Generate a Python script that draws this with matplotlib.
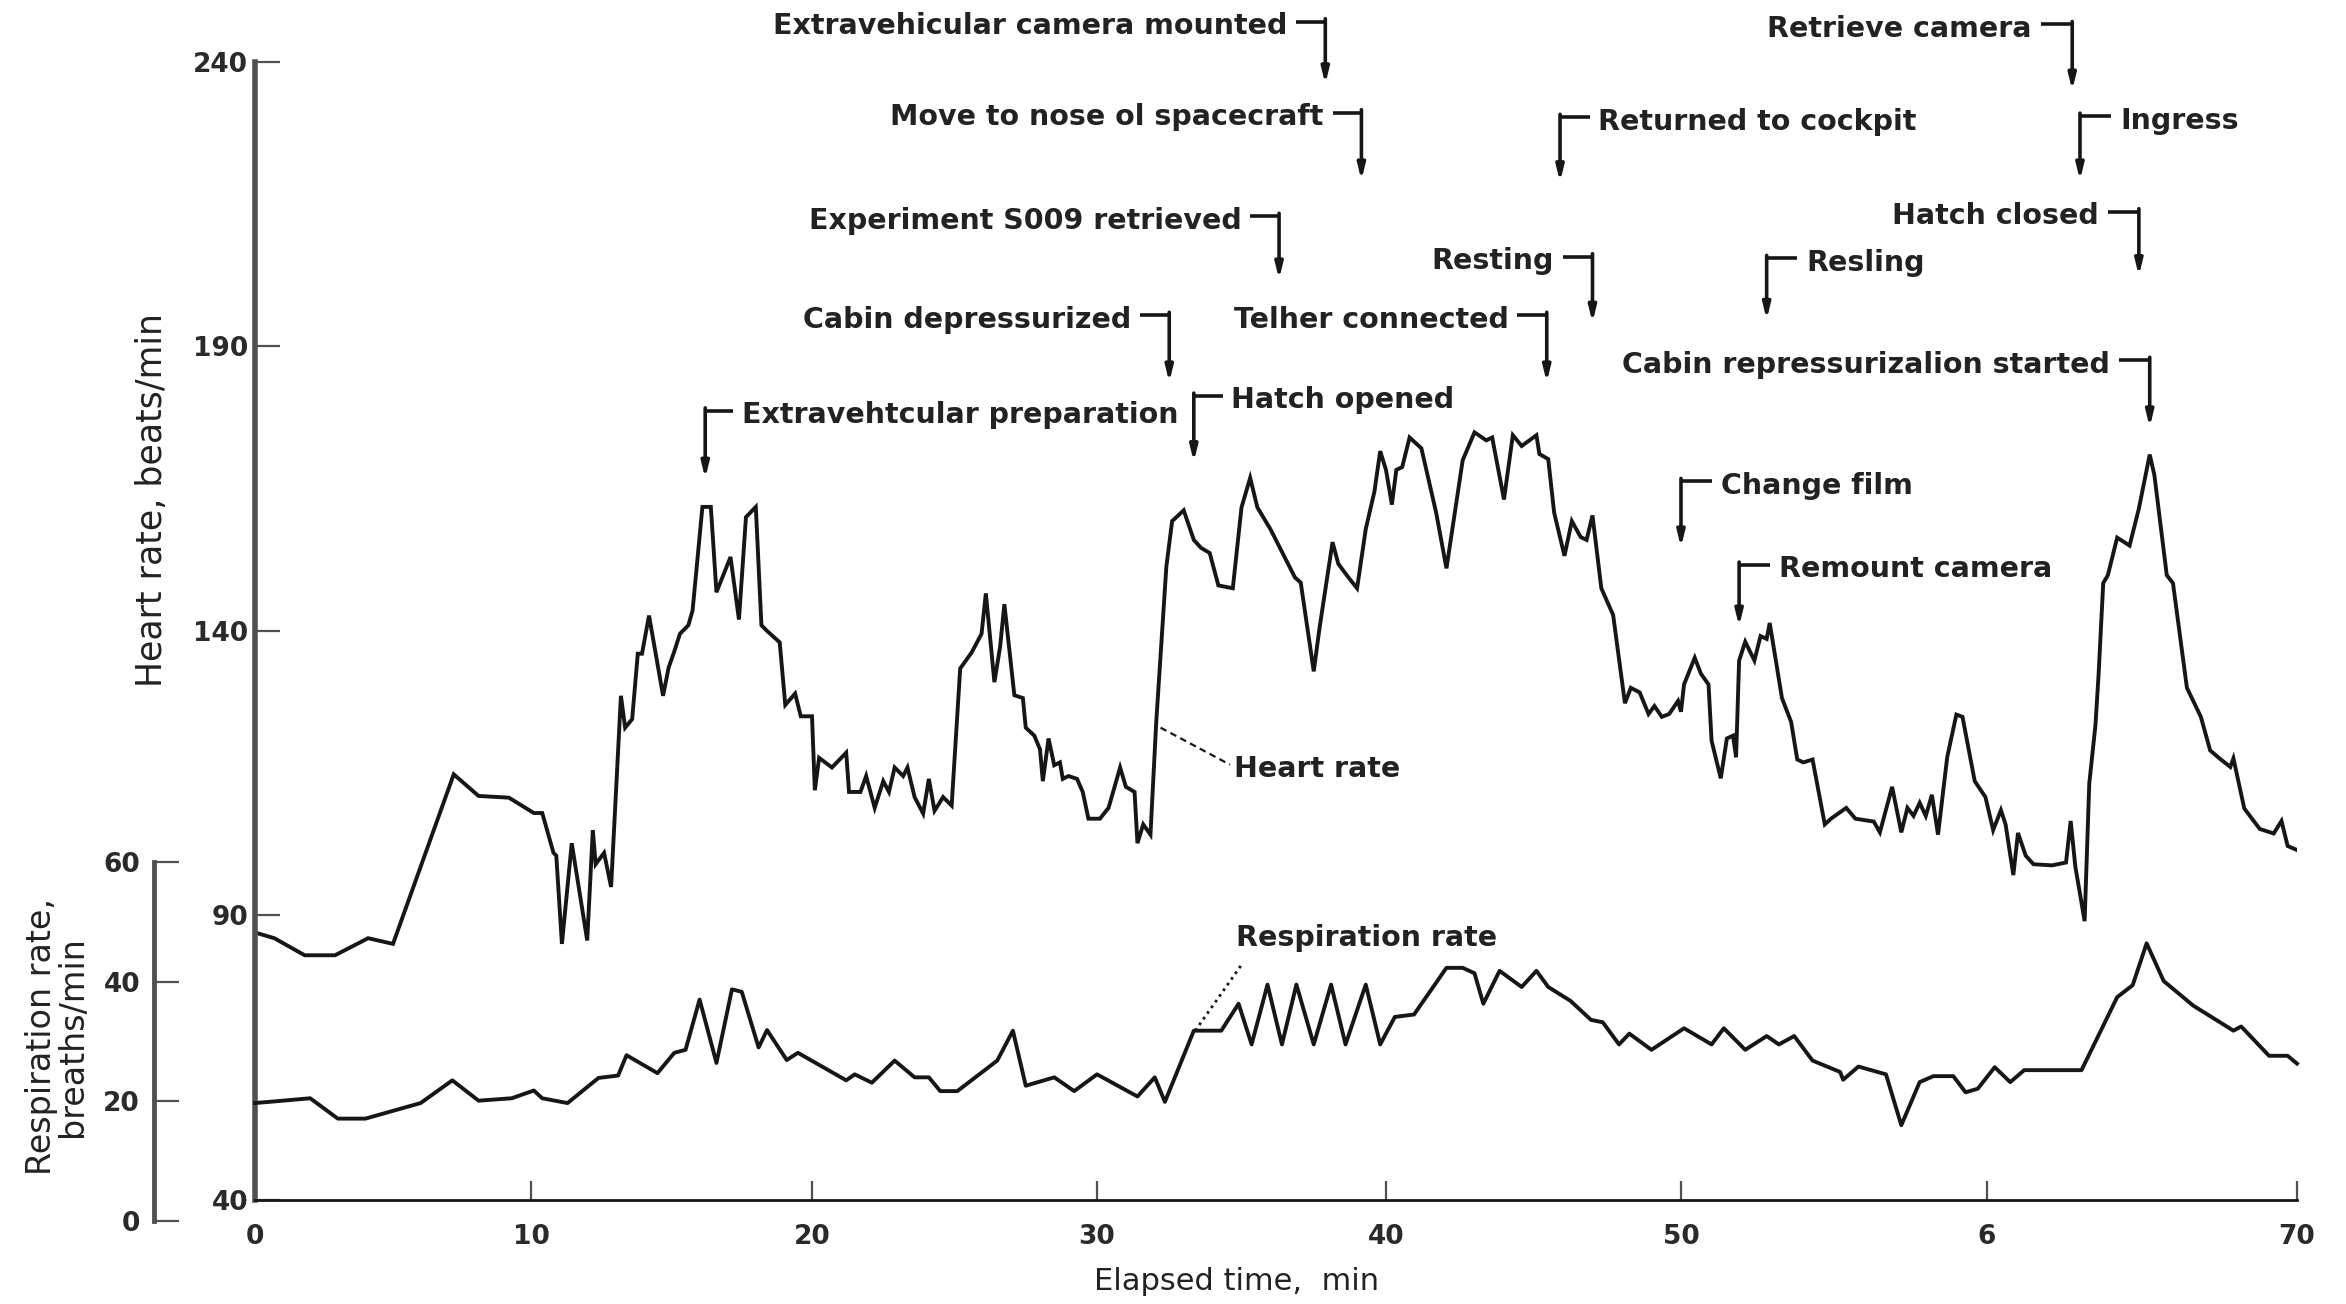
import numpy as np
import matplotlib.pyplot as plt

# heart rate / respiration during EVA
hr_time = [0.0, 0.7, 1.8, 2.9, 4.1, 5.0, 7.2, 8.1, 9.2, 10.1, 10.4, 10.8, 10.9, 11.1, 11.45,
           12.0, 12.2, 12.3, 12.6, 12.85, 13.2, 13.35, 13.6, 13.8, 13.95, 14.2, 14.7, 14.9,
           15.1, 15.3, 15.6, 15.75, 16.1, 16.4, 16.6, 17.1, 17.4, 17.65, 18.0, 18.2, 18.4,
           18.85, 19.05, 19.4, 19.6, 20.0, 20.1, 20.25, 20.7, 21.2, 21.3, 21.7, 21.9, 22.2,
           22.5, 22.7, 22.9, 23.2, 23.35, 23.6, 23.9, 24.1, 24.3, 24.6, 24.9, 25.2, 25.6,
           25.95, 26.1, 26.4, 26.6, 26.75, 27.1, 27.4, 27.5, 27.8, 28.0, 28.1, 28.3, 28.5,
           28.7, 28.8, 29.0, 29.3, 29.5, 29.7, 30.1, 30.4, 30.8, 31.0, 31.3, 31.4, 31.6,
           31.85, 32.05, 32.4, 32.6, 33.0, 33.35, 33.6, 33.9, 34.2, 34.7, 35.0, 35.3, 35.55,
           36.0, 36.85, 37.05, 37.5, 37.7, 38.15, 38.35, 38.7, 39.0, 39.3, 39.6, 39.8, 40.0,
           40.2, 40.35, 40.55, 40.8, 41.2, 41.7, 42.05, 42.6, 43.0, 43.4, 43.6, 44.0, 44.3,
           44.6, 45.1, 45.2, 45.5, 45.7, 46.05, 46.3, 46.6, 46.8, 47.0, 47.3, 47.7, 48.1,
           48.3, 48.6, 48.9, 49.1, 49.35, 49.6, 49.9, 50.0, 50.1, 50.45, 50.65, 50.9, 51.0,
           51.3, 51.5, 51.7, 51.8, 51.9, 52.1, 52.4, 52.6, 52.8, 52.9, 53.3, 53.6, 53.8,
           54.0, 54.3, 54.7, 54.9, 55.4, 55.7, 56.3, 56.5, 56.9, 57.2, 57.4, 57.6, 57.8,
           58.0, 58.2, 58.4, 58.7, 59.0, 59.2, 59.6, 59.95, 60.2, 60.45, 60.6, 60.85, 61.0,
           61.25, 61.5, 62.1, 62.55, 62.7, 62.85, 63.15, 63.3, 63.5, 63.6, 63.75, 63.9,
           64.2, 64.6, 64.9, 65.25, 65.4, 65.8, 66.0, 66.45, 66.9, 67.2, 67.5, 67.85, 67.95,
           68.3, 68.8, 69.25, 69.5, 69.7, 70.0]
hr_bpm = [87, 86, 83, 83, 86, 85, 114.8, 111, 110.7, 108, 108, 101, 100.5, 85, 102.7,
          85.6, 105, 99, 101, 95, 128.6, 123, 124.5, 136, 136, 142.7, 128.6, 133.6,
          136.4, 139.5, 141, 143.6, 161.8, 161.8, 146.8, 153, 142, 160, 161.8, 141, 140,
          138, 127, 129, 125, 125, 112, 117.7, 116, 118.6, 111.7, 111.7, 114.5, 108.9,
          113.6, 111.7, 116, 114.5, 116, 110.8, 107.9, 114, 108.4, 110.8, 109.3, 133.4, 136.2,
          139.5, 146.6, 131, 137.2, 144.7, 128.7, 128.2, 123, 121.6, 119.2, 113.6, 121.1, 116.4,
          116.9, 114, 114.5, 114, 111.7, 107, 107, 108.9, 116, 112.6, 111.7, 102.7, 106,
          104.2, 124, 151.3, 159.3, 161.2, 156, 154.6, 153.7, 148, 147.5, 161.7, 166.9, 161.7,
          157.9, 149.4, 148.5, 132.9, 140.5, 155.6, 151.8, 149.4, 147.5, 157.9, 164.5, 171.6, 168.3,
          162.2, 168.3, 168.8, 174, 172.1, 160.8, 151, 170, 174.9, 173.5, 174, 163.1, 174.4,
          172.5, 174.4, 171.1, 170.2, 160.8, 153.2, 159.3, 156.5, 156, 160.3, 147.5, 142.8, 127.3,
          130, 129.2, 125.4, 126.8, 124.9, 125.4, 127.7, 125.8, 130.6, 135.3, 132.5, 130.6, 120.7,
          114.1, 121.1, 121.6, 117.8, 134.8, 138.1, 134.8, 139.1, 138.6, 141.4, 128.2, 124, 117.4,
          116.9, 117.4, 106, 107, 108.9, 107, 106.5, 104.6, 112.6, 104.6, 108.9, 107.5, 109.8,
          107.5, 111.2, 104.2, 117.8, 125.3, 124.9, 113.6, 110.8, 105, 108.5, 106, 97.1, 104.5,
          100.5, 99, 98.8, 99.3, 106.6, 98.6, 89, 113.2, 123.5, 132.3, 148.4, 149.8,
          156.4, 155, 161.5, 171, 167.4, 149.8, 148.4, 130, 124.9, 119, 117.6, 116.1, 117.6,
          108.8, 105.2, 104.4, 106.6, 102.2, 101.5]

resp_time = [0.0, 2.0, 3.0, 4.0, 6.0, 7.15, 8.1, 9.3, 10.1, 10.4, 11.3, 12.4, 13.1, 13.4,
             14.5, 15.1, 15.5, 16.0, 16.6, 17.15, 17.5, 18.1, 18.4, 19.1, 19.5, 21.2, 21.5,
             22.1, 22.9, 23.6, 24.1, 24.5, 25.1, 26.5, 27.05, 27.5, 28.5, 29.2, 30.0, 31.4,
             32.0, 32.35, 33.35, 34.3, 34.9, 35.35, 35.9, 36.4, 36.9, 37.5, 38.1, 38.6, 39.3,
             39.8, 40.3, 40.95, 42.05, 42.6, 43.0, 43.3, 43.85, 44.6, 45.1, 45.5, 46.25, 46.95,
             47.35, 47.9, 48.25, 49.0, 50.1, 51.0, 51.4, 52.1, 52.8, 53.2, 53.7, 54.3, 55.2,
             55.3, 55.8, 56.7, 57.2, 57.8, 58.25, 58.9, 59.3, 59.7, 60.25, 60.75, 61.2, 63.05,
             64.2, 64.7, 65.15, 65.7, 66.65, 67.95, 68.2, 69.1, 69.7, 70.0]
resp_rate = [19.7, 20.5, 17.1, 17.1, 19.7, 23.5, 20.1, 20.5, 21.8, 20.5, 19.7, 23.9, 24.3, 27.7,
             24.7, 28.1, 28.6, 37, 26.4, 38.7, 38.3, 29, 31.9, 26.9, 28.1, 23.5, 24.5,
             23.1, 26.8, 24, 24, 21.7, 21.7, 26.8, 31.8, 22.6, 24, 21.7, 24.5, 20.8,
             24, 19.9, 31.8, 31.8, 36.3, 29.5, 39.5, 29.5, 39.5, 29.5, 39.5, 29.5, 39.5,
             29.5, 34.1, 34.5, 42.3, 42.3, 41.4, 36.3, 41.8, 39.1, 41.8, 39.1, 36.8, 33.6,
             33.2, 29.5, 31.3, 28.6, 32.2, 29.5, 32.2, 28.6, 30.9, 29.5, 30.9, 26.8, 24.9,
             23.6, 25.8, 24.5, 16, 23.2, 24.2, 24.2, 21.5, 22.1, 25.7, 23.2, 25.2, 25.2,
             37.4, 39.4, 46.4, 40.1, 36, 31.8, 32.5, 27.6, 27.6, 26.3]

x_ticks = [0, 10, 20, 30, 40, 50, 60, 70]
x_tick_labels = ["0", "10", "20", "30", "40", "50", "6", "70"]
hr_ticks = [40, 90, 140, 190, 240]
resp_ticks = [0, 20, 40, 60]

event_labels = ["Extravehicular camera mounted", "Move to nose ol spacecraft",
                "Experiment S009 retrieved", "Cabin depressurized",
                "Extravehtcular preparation", "Hatch opened", "Telher connected",
                "Resting", "Returned to cockpit", "Resling",
                "Cabin repressurizalion started", "Hatch closed", "Ingress",
                "Retrieve camera", "Change film", "Remount camera"]
event_time = [37.9, 39.15, 36.3, 32.5, 16.2, 33.35, 45.45, 47.0, 45.9, 52.8,
              65.25, 64.9, 63.0, 62.75, 50.0, 51.9]

FONT = "DejaVu Sans"
INK = "#161616"
plt.rcParams["font.family"] = [FONT]

# the scanned time axis is stretched toward the right (tick gaps grow),
# so use a piecewise-linear scale through the scanned tick spacing
SCAN_X = [0, 276, 557, 842, 1131, 1426, 1732, 2042]


def scan_fwd(t):
    t = np.asarray(t, dtype=float)
    return np.interp(t, x_ticks, SCAN_X) + np.where(t > 70, (t - 70) * 31, 0) + np.where(t < 0, t * 27.6, 0)


def scan_inv(p):
    p = np.asarray(p, dtype=float)
    return np.interp(p, SCAN_X, x_ticks) + np.where(p > 2042, (p - 2042) / 31, 0) + np.where(p < 0, p / 27.6, 0)


fig = plt.figure(figsize=(23.46, 13.04), dpi=100)
ax = fig.add_axes([0.1087, 0.0798, 0.8704, 0.8727])
ax2 = fig.add_axes([0.1087, 0.0637, 0.8704, 0.2753])
ax2.patch.set_visible(False)
for a in (ax, ax2):
    a.set_xscale("function", functions=(scan_fwd, scan_inv))
    a.set_xlim(0, 70)

ax.plot(hr_time, hr_bpm, color=INK, lw=2.8, solid_joinstyle="miter")
ax2.plot(resp_time, resp_rate, color=INK, lw=2.8, clip_on=False)

# heart axis
ax.set_ylim(40, 240)
for s in ["top", "right"]:
    ax.spines[s].set_visible(False)
ax.spines["left"].set_color("#505050")
ax.spines["left"].set_linewidth(4)
ax.spines["bottom"].set_color(INK)
ax.spines["bottom"].set_linewidth(2)
ax.set_yticks(hr_ticks)
ax.set_xticks(x_ticks)
ax.set_xticklabels(x_tick_labels)
ax.xaxis.set_minor_locator(plt.NullLocator())
ax.tick_params(axis="y", direction="in", length=18, width=1.6, color="#505050",
               pad=5, labelsize=19)
ax.tick_params(axis="x", direction="in", length=14, width=1.6, color="#505050",
               pad=17, labelsize=19)
for lab in ax.get_xticklabels() + ax.get_yticklabels():
    lab.set_fontweight("bold")
    lab.set_color("#2a2a2a")

# respiration axis, offset to the left
ax2.set_ylim(0, 60)
ax2.xaxis.set_visible(False)
for s in ["top", "right", "bottom"]:
    ax2.spines[s].set_visible(False)
ax2.spines["left"].set_position(("axes", -0.0495))
ax2.spines["left"].set_color("#505050")
ax2.spines["left"].set_linewidth(3.5)
ax2.set_yticks(resp_ticks)
ax2.tick_params(axis="y", direction="in", length=18, width=1.6, color="#505050",
                pad=10, labelsize=19)
for lab in ax2.get_yticklabels():
    lab.set_fontweight("bold")
    lab.set_color("#2a2a2a")

# axis titles
fig.text(0.0648, 0.6166, "Heart rate, beats/min", rotation=90, ha="center", va="center",
         fontsize=25, color="#222222")
fig.text(0.0243, 0.2048, "Respiration rate,\nbreaths/min", rotation=90, ha="center",
         va="center", fontsize=24, color="#222222", linespacing=0.95)
fig.text(0.527, 0.0169, "Elapsed time,  min", ha="center", va="center", fontsize=22,
         color="#222222")

# curve labels with leaders
ax.plot([32.2, 34.6], [123, 116.5], color=INK, lw=1.6, ls=(0, (3, 2)))
ax.text(34.75, 115.8, "Heart rate", ha="left", va="center", fontsize=20.5,
        fontweight="bold", color="#222222")
ax2.plot([33.4, 35.0], [31.8, 42.8], color=INK, lw=2, ls=(0, (1, 1.5)))
ax2.text(34.8, 47.3, "Respiration rate", ha="left", va="center", fontsize=20.5,
         fontweight="bold", color="#222222")

# event markers: (arrow tip, bracket height, side of the text)
event_layout = [(236.1, 247.1, "r"), (219.2, 231.1, "r"), (201.8, 212.9, "r"),
                (183.7, 195.5, "r"), (166.8, 178.7, "l"), (169.7, 181.3, "l"),
                (183.7, 195.5, "r"), (194.2, 205.8, "r"), (218.9, 230.3, "l"),
                (194.7, 205.5, "l"), (175.8, 187.6, "r"), (202.4, 213.7, "r"),
                (219.2, 230.5, "l"), (235.0, 246.6, "r"), (154.7, 166.3, "l"),
                (140.8, 151.6, "l")]
arm = 1.0
gap = 0.3
for label, t, (tip, top, side) in zip(event_labels, event_time, event_layout):
    if side == "r":
        ax.plot([t - arm, t], [top, top], color=INK, lw=2.6, clip_on=False,
                solid_capstyle="butt")
        ax.text(t - arm - gap, top - 0.8, label, ha="right", va="center",
                fontsize=20.5, fontweight="bold", color="#222222")
    else:
        ax.plot([t, t + arm], [top, top], color=INK, lw=2.6, clip_on=False,
                solid_capstyle="butt")
        ax.text(t + arm + gap, top - 0.8, label, ha="left", va="center",
                fontsize=20.5, fontweight="bold", color="#222222")
    ax.annotate("", xy=(t, tip), xytext=(t, top + 0.5), annotation_clip=False,
                arrowprops=dict(arrowstyle="-|>,head_length=0.9,head_width=0.22",
                                color=INK, lw=2.6, shrinkA=0, shrinkB=0))

fig.savefig("out.png", dpi=100, facecolor="white")
